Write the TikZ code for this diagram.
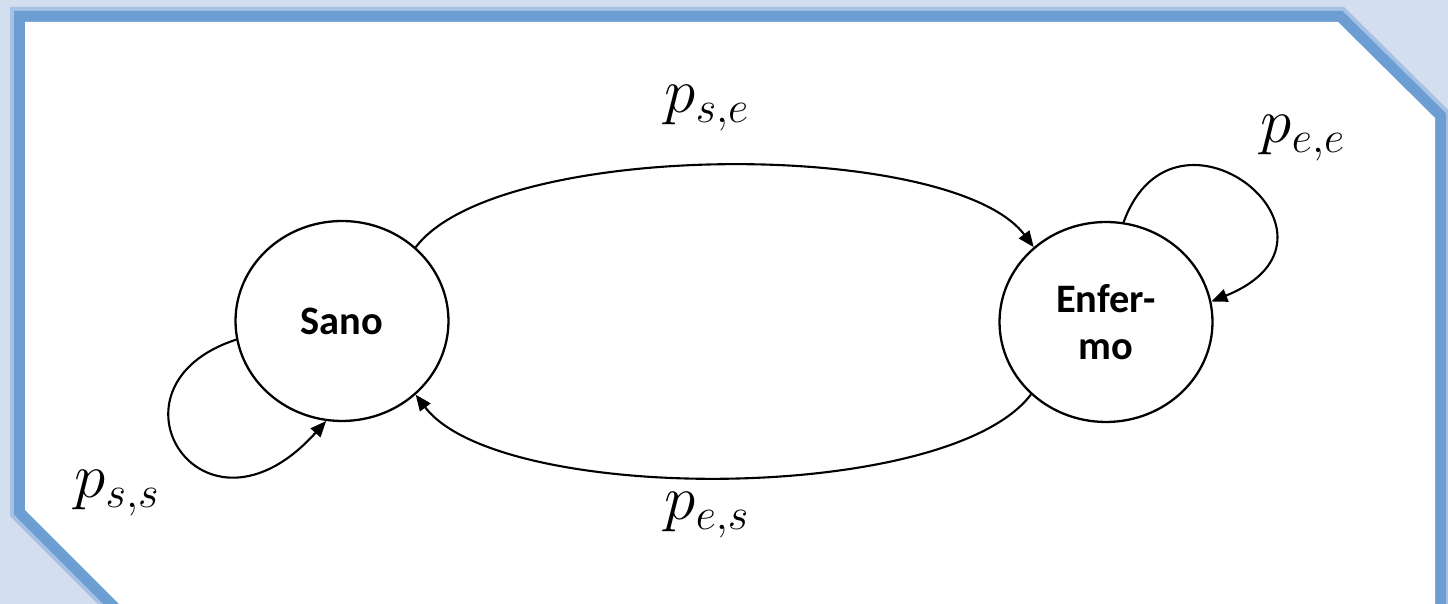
\documentclass[tikz,border=0pt]{standalone}
\usepackage{fix-cm}
\usepackage{fontspec}
\setsansfont{Carlito}
\usetikzlibrary{arrows.meta,shapes.geometric}
\definecolor{panelblue}{HTML}{6C9DD3}
\definecolor{glowblue}{HTML}{A7C1E5}
\definecolor{pagebg}{HTML}{D3DEEF}
\tikzset{
  state/.style = {draw, ellipse, line width=1.3pt, minimum width=4.26cm,
                  minimum height=4cm, inner sep=0pt, align=center,
                  font=\sffamily\bfseries\fontsize{23}{27}\selectfont},
  sig/.style   = {-{Triangle[length=3.2mm,width=2.6mm]}, line width=1.2pt},
  lbl/.style   = {font=\fontsize{36}{40}\selectfont, inner sep=0pt},
  panel/.style = {line join=miter},
}
\newcommand\panelpath{(25,582) -- (1338,582) -- (1435,486) -- (1435,-20)
  -- (139,-20) -- (25,94) -- cycle}

\begin{document}
\begin{tikzpicture}[x=0.02cm, y=0.02cm]
  \useasboundingbox (0,0) rectangle (1448,604);
  \clip (0,0) rectangle (1448,604);
  \fill[pagebg] (0,0) rectangle (1448,604);
  % framed panel with cut corners
  \draw[panel, glowblue, line width=0.6cm] \panelpath;
  \draw[panel, panelblue, line width=0.44cm] \panelpath;
  \fill[white] \panelpath;
  \node[state] (sano) at (342,283) {Sano};
  \node[state] (enfermo) at (1106,282) {Enfer-\\mo};
  \draw[sig] (sano.45) .. controls +(53:2.72cm) and +(127:2.72cm) .. (enfermo.134);
  \draw[sig] (enfermo.224) .. controls +(233:2.76cm) and +(307:2.76cm) .. (sano.315);
  \draw[sig] (enfermo.80) .. controls +(70:3cm) and +(22:3.4cm) .. (enfermo.11);
  \draw[sig] (sano.190) .. controls +(198:3cm) and +(228:3.7cm) .. (sano.261);
  \node[lbl] (pse) at (707,496) {$p_{s,e}$};
  \node[lbl] (pes) at (707,89) {$p_{e,s}$};
  \node[lbl] (pee) at (1303,466) {$p_{e,e}$};
  \node[lbl] (pss) at (117,111) {$p_{s,s}$};
\end{tikzpicture}
\end{document}
